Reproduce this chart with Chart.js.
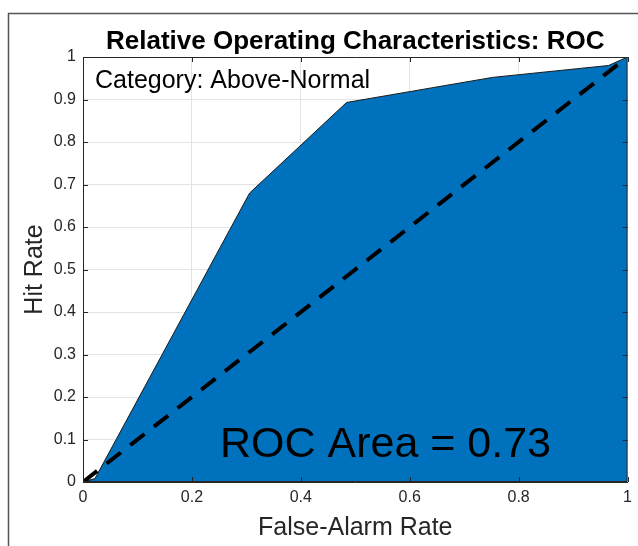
<!DOCTYPE html>
<html>
<head>
<meta charset="utf-8">
<script src="https://cdn.jsdelivr.net/npm/chart.js@4/dist/chart.umd.min.js"></script>
<style>
  body { margin: 0; background: #fff; }
  canvas { display: block; }
</style>
</head>
<body>
<canvas id="rocChart" width="638" height="546"></canvas>
<script>
// ROC curve for the Above-Normal category
const falseAlarm = [0, 0.022, 0.306, 0.484, 0.752, 0.965, 1];
const hitRate = [0, 0.008, 0.68, 0.893, 0.952, 0.98, 1];
const diagX = [0, 1];
const diagY = [0, 1];
const titleText = "Relative Operating Characteristics: ROC";
const categoryText = "Category: Above-Normal";
const areaText = "ROC Area = 0.73";

const FONT = '"Liberation Sans", Arial, sans-serif';
const INK = "#262626";

const toPoints = (xs, ys) => xs.map((x, i) => ({ x: x, y: ys[i] }));
const tickLabel = (v) => String(Number(v.toFixed(1)));

// figure frame, axes box, inner ticks and text labels
const decorations = {
  id: "decorations",
  beforeDraw(chart) {
    const ctx = chart.ctx;
    ctx.save();
    ctx.fillStyle = "#fff";
    ctx.fillRect(0, 0, chart.width, chart.height);
    ctx.strokeStyle = "#555";
    ctx.lineWidth = 1.5;
    ctx.beginPath();
    ctx.moveTo(8.5, chart.height);
    ctx.lineTo(8.5, 13.5);
    ctx.lineTo(chart.width, 13.5);
    ctx.stroke();
    ctx.restore();
  },
  afterDatasetsDraw(chart) {
    const { ctx, chartArea: a, scales } = chart;
    ctx.save();
    ctx.strokeStyle = INK;
    ctx.lineWidth = 1;
    ctx.beginPath();
    ctx.rect(a.left + 0.5, a.top + 0.5, a.right - a.left - 1, a.bottom - a.top - 1);
    scales.x.ticks.forEach((t) => {
      const px = Math.round(scales.x.getPixelForValue(t.value)) + 0.5;
      ctx.moveTo(px, a.bottom);
      ctx.lineTo(px, a.bottom - 5);
      ctx.moveTo(px, a.top);
      ctx.lineTo(px, a.top + 5);
    });
    scales.y.ticks.forEach((t) => {
      const py = Math.round(scales.y.getPixelForValue(t.value)) + 0.5;
      ctx.moveTo(a.left, py);
      ctx.lineTo(a.left + 5, py);
      ctx.moveTo(a.right, py);
      ctx.lineTo(a.right - 5, py);
    });
    ctx.stroke();
    ctx.restore();
  },
  afterDraw(chart) {
    const { ctx, chartArea: a } = chart;
    ctx.save();
    ctx.fillStyle = "#000";
    ctx.textBaseline = "alphabetic";
    ctx.textAlign = "center";
    ctx.font = "bold 26px " + FONT;
    ctx.fillText(titleText, (a.left + a.right) / 2, 49);
    ctx.textAlign = "left";
    ctx.font = "25px " + FONT;
    ctx.fillText(categoryText, a.left + 12, 88);
    ctx.font = "43px " + FONT;
    ctx.fillText(areaText, 220, 457);
    ctx.restore();
  },
};

new Chart(document.getElementById("rocChart"), {
  type: "scatter",
  data: {
    datasets: [
      {
        label: "No skill",
        data: toPoints(diagX, diagY),
        showLine: true,
        borderColor: "#000",
        borderWidth: 4,
        borderDash: [18, 12],
        pointRadius: 0,
        fill: false,
        order: 0,
      },
      {
        label: "ROC",
        data: toPoints(falseAlarm, hitRate),
        showLine: true,
        borderColor: "#1a1a1a",
        borderWidth: 1,
        backgroundColor: "#0072BD",
        pointRadius: 0,
        fill: "origin",
        tension: 0,
        order: 1,
      },
    ],
  },
  options: {
    responsive: false,
    animation: false,
    layout: { padding: { top: 57, right: 10, left: 0, bottom: 0 } },
    plugins: {
      legend: { display: false },
      tooltip: { enabled: false },
    },
    scales: {
      x: {
        type: "linear",
        min: 0,
        max: 1,
        afterFit: (scale) => { scale.height = 64; },
        ticks: {
          stepSize: 0.2,
          padding: 6,
          color: INK,
          font: { family: FONT, size: 16 },
          maxRotation: 0,
          callback: tickLabel,
        },
        grid: { color: "#e3e3e3", drawTicks: false },
        border: { color: INK, width: 1 },
        title: {
          display: true,
          text: "False-Alarm Rate",
          color: INK,
          font: { family: FONT, size: 25 },
          padding: { top: 0, bottom: 3 },
        },
      },
      y: {
        type: "linear",
        min: 0,
        max: 1,
        afterFit: (scale) => { scale.width = 83; },
        ticks: {
          stepSize: 0.1,
          padding: 7,
          color: INK,
          font: { family: FONT, size: 16 },
          callback: tickLabel,
        },
        grid: { color: "#e3e3e3", drawTicks: false },
        border: { color: INK, width: 1 },
        title: {
          display: true,
          text: "Hit Rate",
          color: INK,
          font: { family: FONT, size: 25 },
          padding: { top: 20, bottom: 0 },
        },
      },
    },
  },
  plugins: [decorations],
});
</script>
</body>
</html>
